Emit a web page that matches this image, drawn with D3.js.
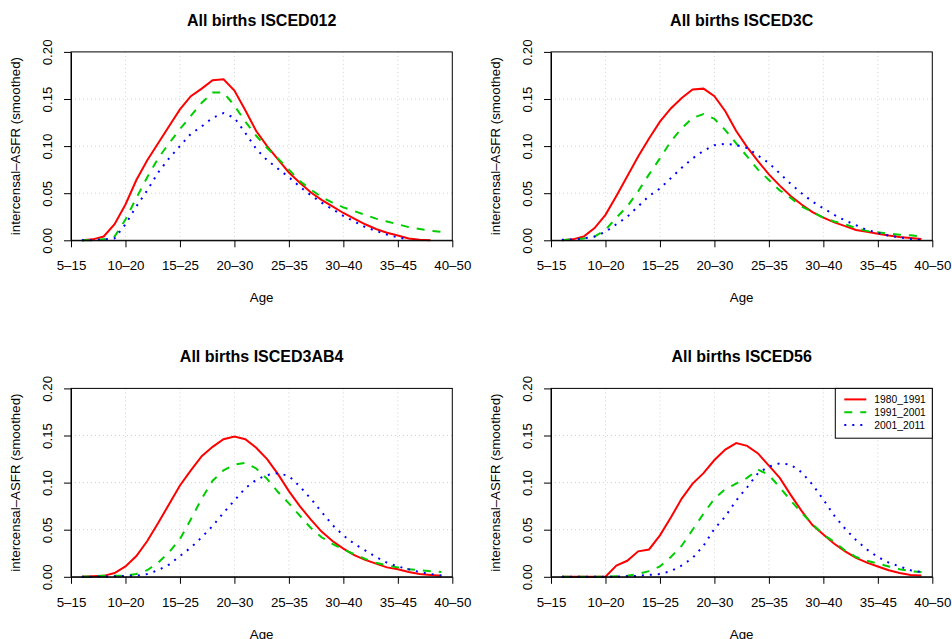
<!DOCTYPE html>
<html>
<head>
<meta charset="utf-8">
<script src="https://cdn.jsdelivr.net/npm/d3@7"></script>
<style>
body { margin: 0; background: #fff; }
svg { font-family: "Liberation Sans", Arial, sans-serif; }
</style>
</head>
<body>
<script>
// age-window tick labels (positions 0,5,...,35)
var ageLabels = ["5\u201315", "10\u201320", "15\u201325", "20\u201330", "25\u201335", "30\u201340", "35\u201345", "40\u201350"];
var ageTicks = [0, 5, 10, 15, 20, 25, 30, 35];
var rateTicks = [0, 0.05, 0.10, 0.15, 0.20];
var periods = ["1980_1991", "1991_2001", "2001_2011"];
var titles = ["All births ISCED012", "All births ISCED3C", "All births ISCED3AB4", "All births ISCED56"];

// smoothed ASFR, one value per age step 1..34 (null = not drawn)
var isced012_8091 = [0, 0.001, 0.004, 0.017, 0.038, 0.064, 0.085, 0.103, 0.121, 0.139, 0.153, 0.161, 0.170, 0.171, 0.159, 0.138, 0.116, 0.100, 0.086, 0.072, 0.061, 0.051, 0.043, 0.036, 0.029, 0.023, 0.017, 0.012, 0.008, 0.005, 0.002, 0.0005, 0, null];
var isced012_9101 = [0, 0, 0.001, 0.004, 0.022, 0.045, 0.067, 0.087, 0.103, 0.118, 0.132, 0.146, 0.157, 0.157, 0.143, 0.126, 0.111, 0.098, 0.087, 0.075, 0.063, 0.054, 0.046, 0.040, 0.035, 0.031, 0.027, 0.023, 0.020, 0.017, 0.014, 0.012, 0.010, 0.009];
var isced012_0111 = [0, 0, 0.001, 0.002, 0.017, 0.036, 0.053, 0.072, 0.087, 0.100, 0.113, 0.121, 0.130, 0.135, 0.130, 0.114, 0.097, 0.085, 0.076, 0.067, 0.057, 0.048, 0.040, 0.033, 0.026, 0.020, 0.014, 0.010, 0.006, 0.003, 0.001, null, null, null];

var isced3c_8091 = [0, 0.001, 0.004, 0.013, 0.027, 0.047, 0.068, 0.089, 0.108, 0.126, 0.140, 0.151, 0.160, 0.161, 0.153, 0.137, 0.116, 0.099, 0.084, 0.070, 0.058, 0.047, 0.038, 0.030, 0.024, 0.019, 0.015, 0.011, 0.009, 0.007, 0.005, 0.0035, 0.0025, 0.0015];
var isced3c_9101 = [0, 0.001, 0.002, 0.004, 0.011, 0.024, 0.036, 0.052, 0.070, 0.087, 0.105, 0.119, 0.130, 0.134, 0.129, 0.117, 0.103, 0.089, 0.075, 0.064, 0.053, 0.045, 0.036, 0.030, 0.024, 0.020, 0.017, 0.013, 0.010, 0.0085, 0.007, 0.006, 0.0053, 0.0042];
var isced3c_0111 = [0.0005, 0.001, 0.002, 0.004, 0.009, 0.017, 0.025, 0.036, 0.047, 0.055, 0.066, 0.077, 0.087, 0.095, 0.101, 0.1025, 0.101, 0.098, 0.090, 0.082, 0.071, 0.060, 0.050, 0.041, 0.034, 0.027, 0.021, 0.016, 0.011, 0.008, 0.005, 0.003, 0.0015, 0.0005];

var isced3ab4_8091 = [0, 0.0005, 0.001, 0.004, 0.011, 0.022, 0.038, 0.057, 0.077, 0.097, 0.113, 0.128, 0.138, 0.146, 0.149, 0.146, 0.137, 0.125, 0.109, 0.091, 0.075, 0.061, 0.048, 0.038, 0.030, 0.023, 0.018, 0.014, 0.010, 0.008, 0.005, 0.003, 0.002, 0.001];
var isced3ab4_9101 = [0, 0.0005, 0.001, 0.001, 0.001, 0.003, 0.007, 0.015, 0.026, 0.040, 0.061, 0.083, 0.102, 0.113, 0.119, 0.121, 0.115, 0.104, 0.090, 0.078, 0.065, 0.052, 0.042, 0.035, 0.029, 0.024, 0.019, 0.015, 0.012, 0.010, 0.008, 0.007, 0.006, 0.005];
var isced3ab4_0111 = [0, 0, 0.0003, 0.0005, 0.001, 0.001, 0.003, 0.007, 0.013, 0.022, 0.031, 0.042, 0.054, 0.068, 0.081, 0.094, 0.103, 0.108, 0.110, 0.107, 0.096, 0.083, 0.069, 0.055, 0.044, 0.035, 0.028, 0.021, 0.015, 0.011, 0.008, 0.005, 0.003, 0.0015];

var isced56_8091 = [0, 0, 0, 0, 0, 0.012, 0.017, 0.027, 0.029, 0.044, 0.063, 0.083, 0.099, 0.110, 0.124, 0.135, 0.142, 0.139, 0.131, 0.118, 0.105, 0.087, 0.070, 0.055, 0.045, 0.035, 0.027, 0.020, 0.015, 0.011, 0.007, 0.004, 0.002, 0.0015];
var isced56_9101 = [0, 0, 0, 0, 0, 0.0005, 0.001, 0.003, 0.006, 0.011, 0.021, 0.033, 0.050, 0.067, 0.083, 0.093, 0.099, 0.105, 0.114, 0.108, 0.095, 0.081, 0.068, 0.056, 0.045, 0.037, 0.028, 0.021, 0.017, 0.014, 0.011, 0.008, 0.006, 0.005];
var isced56_0111 = [0, 0, 0, 0, 0, 0.0003, 0.0005, 0.001, 0.002, 0.003, 0.006, 0.012, 0.020, 0.033, 0.051, 0.064, 0.081, 0.095, 0.110, 0.117, 0.1205, 0.119, 0.111, 0.098, 0.082, 0.065, 0.051, 0.039, 0.029, 0.021, 0.015, 0.011, 0.007, 0.005];

var panelSeries = [
	[isced012_8091, isced012_9101, isced012_0111],
	[isced3c_8091, isced3c_9101, isced3c_0111],
	[isced3ab4_8091, isced3ab4_9101, isced3ab4_0111],
	[isced56_8091, isced56_9101, isced56_0111]
];

var styles = [
	{color: "#FF0000", dash: null},
	{color: "#00CD00", dash: "8,8"},
	{color: "#0000FF", dash: "2,6"}
];

var chart = {

	svg: null,
	w: 381.3,
	h: 188.4,

	// top-left corner of each plot box
	boxes: [{x: 71, y: 51.9}, {x: 551, y: 51.9}, {x: 71, y: 388.4}, {x: 551, y: 388.4}],

	init: function () {
		this.svg = d3.select("body").append("svg")
			.attr("width", 952)
			.attr("height", 639);

		for (var p = 0; p < 4; p++) {
			this.panel(p);
		}
		this.legend(3);
	},

	panel: function (p) {
		var box = this.boxes[p];
		var w = this.w, h = this.h;
		var g = this.svg.append("g").attr("transform", "translate(" + box.x + "," + box.y + ")");

		var x = d3.scaleLinear().domain([0, 35]).range([0, w]);
		var y = d3.scaleLinear().domain([0, 0.2]).range([h, 0]);

		// grid first
		g.append("g").selectAll("line.gx")
			.data(ageTicks.slice(1, -1))
			.enter().append("line")
			.attr("x1", function (d) { return x(d); })
			.attr("x2", function (d) { return x(d); })
			.attr("y1", 0).attr("y2", h)
			.attr("stroke", "#D3D3D3").attr("stroke-dasharray", "1,3");
		g.append("g").selectAll("line.gy")
			.data(rateTicks.slice(1, -1))
			.enter().append("line")
			.attr("y1", function (d) { return y(d); })
			.attr("y2", function (d) { return y(d); })
			.attr("x1", 0).attr("x2", w)
			.attr("stroke", "#D3D3D3").attr("stroke-dasharray", "1,3");

		var line = d3.line()
			.defined(function (d) { return d !== null; })
			.x(function (d, i) { return x(i + 1); })
			.y(function (d) { return y(d); });

		panelSeries[p].forEach(function (vals, k) {
			g.append("path")
				.attr("d", line(vals))
				.attr("fill", "none")
				.attr("stroke", styles[k].color)
				.attr("stroke-width", 2)
				.attr("stroke-dasharray", styles[k].dash);
		});

		// axes
		var ax = g.append("g")
			.attr("transform", "translate(0," + h + ")")
			.call(d3.axisBottom(x).tickValues(ageTicks)
				.tickFormat(function (d, i) { return ageLabels[i]; })
				.tickSize(7).tickSizeOuter(0).tickPadding(13.6));
		ax.selectAll("text").attr("font-size", 13.3).attr("fill", "#000");

		var ay = g.append("g")
			.call(d3.axisLeft(y).tickValues(rateTicks)
				.tickFormat(d3.format(".2f"))
				.tickSize(7).tickSizeOuter(0));
		ay.selectAll("text")
			.attr("font-size", 13.3).attr("fill", "#000")
			.attr("x", 0).attr("y", -19).attr("dy", 0)
			.attr("text-anchor", "middle")
			.attr("transform", "rotate(-90)");
		[ax, ay].forEach(function (a) {
			a.attr("font-family", null);
			a.selectAll("line,path").attr("stroke", "#000");
		});

		g.append("rect")
			.attr("width", w).attr("height", h)
			.attr("fill", "none").attr("stroke", "#000");

		// labels
		g.append("text")
			.attr("x", w / 2).attr("y", -26.2)
			.attr("text-anchor", "middle")
			.attr("font-size", 16).attr("font-weight", "bold")
			.text(titles[p]);
		g.append("text")
			.attr("x", w / 2).attr("y", h + 62.2)
			.attr("text-anchor", "middle")
			.attr("font-size", 13.3)
			.text("Age");
		g.append("text")
			.attr("transform", "translate(-51," + (h / 2) + ") rotate(-90)")
			.attr("text-anchor", "middle")
			.attr("font-size", 13.3)
			.text("intercensal\u2013ASFR (smoothed)");
	},

	legend: function (p) {
		var box = this.boxes[p];
		var lw = 97, lh = 49.8;
		var g = this.svg.append("g")
			.attr("transform", "translate(" + (box.x + this.w - lw) + "," + box.y + ")");
		g.append("rect")
			.attr("width", lw).attr("height", lh)
			.attr("fill", "#fff").attr("stroke", "#000");

		var rows = g.selectAll("g.row")
			.data(periods)
			.enter().append("g")
			.attr("transform", function (d, i) { return "translate(0," + (11 + i * 12.8) + ")"; });
		rows.append("line")
			.attr("x1", 9).attr("x2", 31)
			.attr("stroke", function (d, i) { return styles[i].color; })
			.attr("stroke-width", 2)
			.attr("stroke-dasharray", function (d, i) { return styles[i].dash; });
		rows.append("text")
			.attr("x", 39).attr("y", 3.7)
			.attr("font-size", 10.3)
			.text(function (d) { return d; });
	}
};

chart.init();
</script>
</body>
</html>
